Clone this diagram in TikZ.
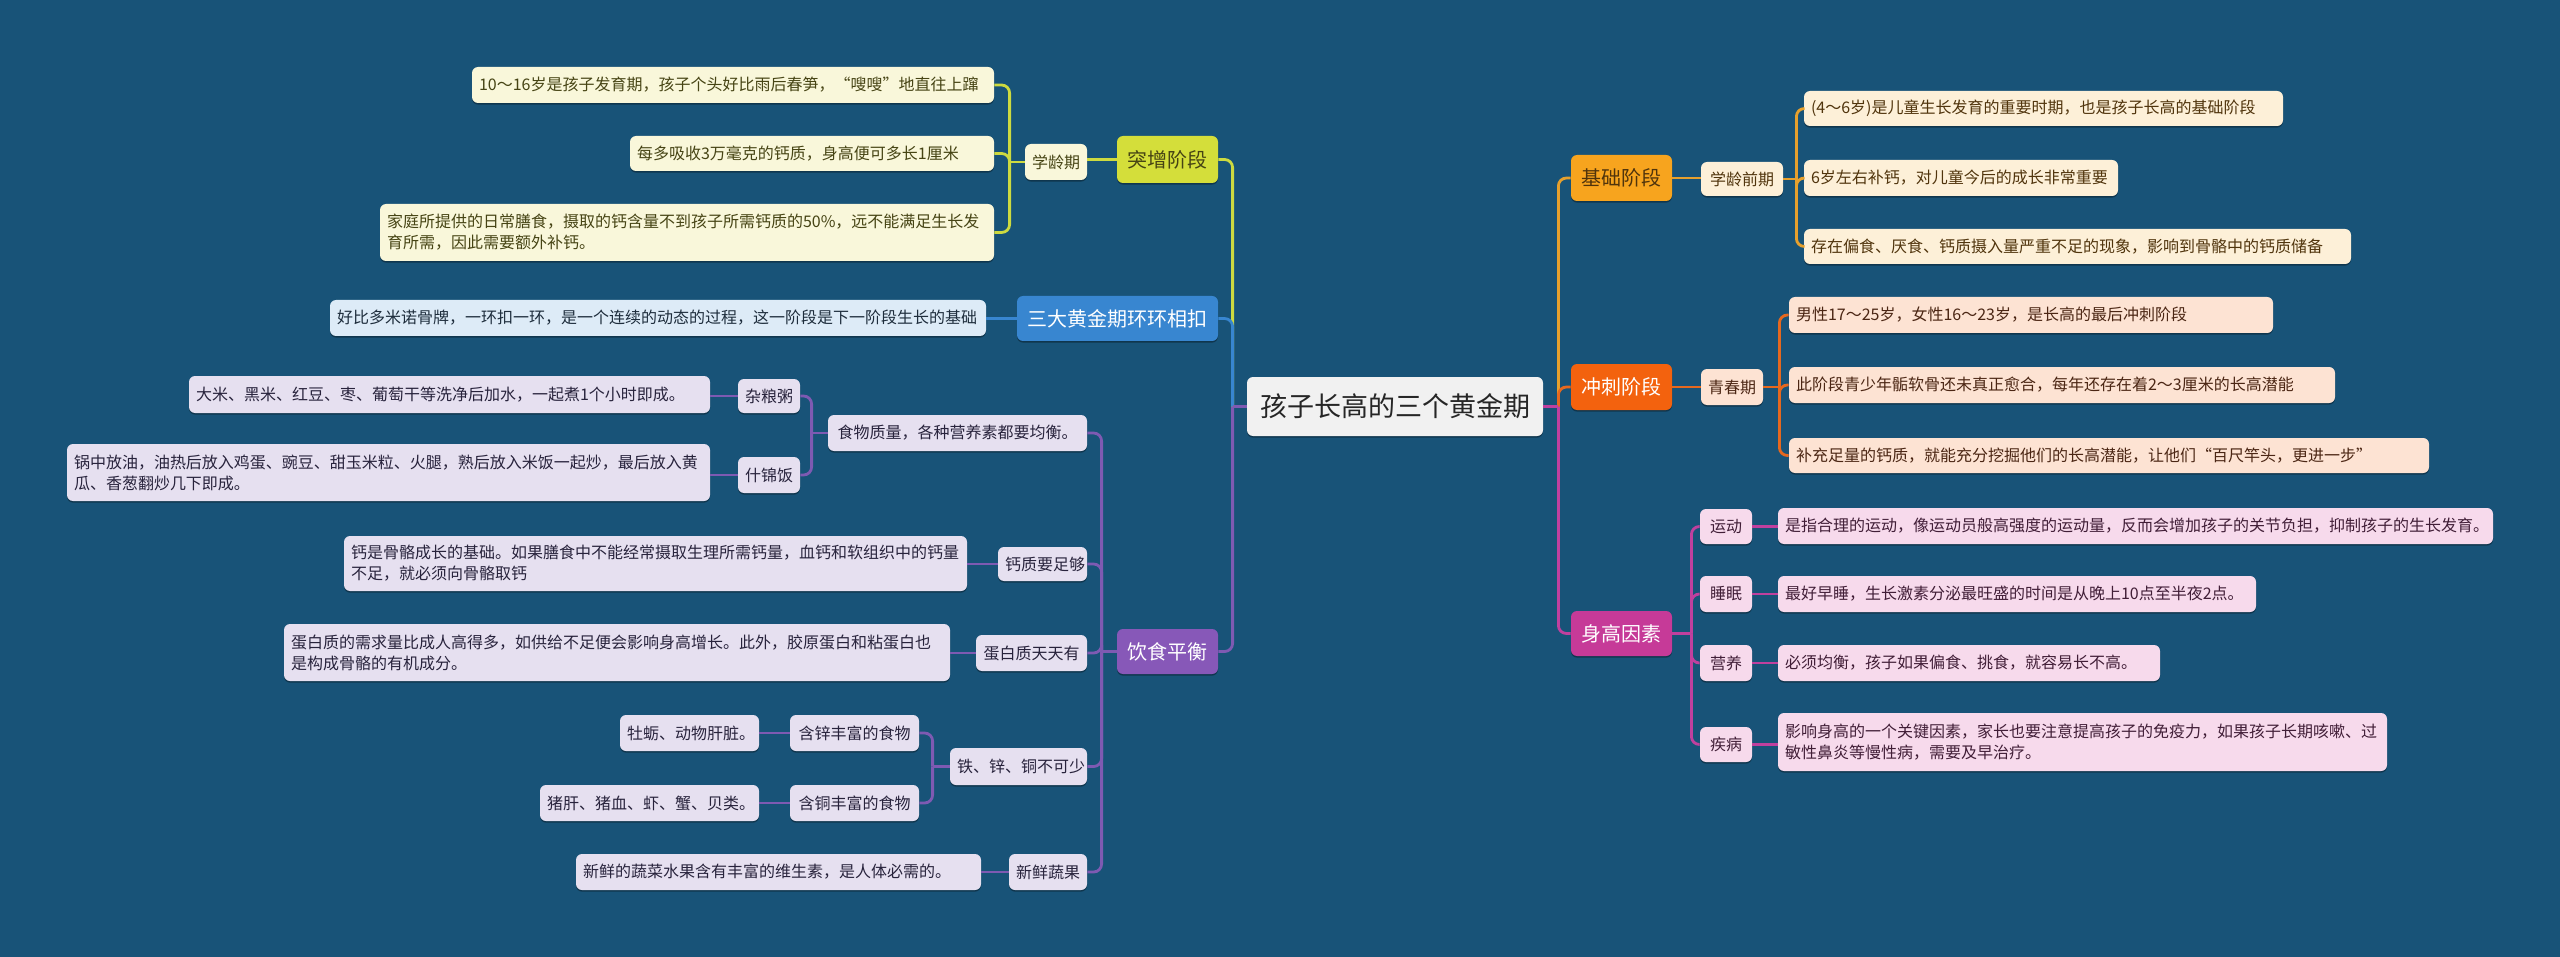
\documentclass[tikz,border=0pt]{standalone}
\usepackage{fontspec}
\setmainfont{Noto Sans CJK SC}
\usetikzlibrary{shadows}
\definecolor{bg}{RGB}{24,83,120}
\definecolor{cfill}{RGB}{241,241,241}
\definecolor{yM}{RGB}{212,222,58}\definecolor{yL}{RGB}{205,218,64}\definecolor{yF}{RGB}{249,247,218}\definecolor{yT}{RGB}{70,68,20}
\definecolor{bM}{RGB}{56,134,208}\definecolor{bL}{RGB}{56,134,208}\definecolor{bF}{RGB}{221,235,247}\definecolor{bT}{RGB}{30,45,60}
\definecolor{pM}{RGB}{135,88,184}\definecolor{pL}{RGB}{126,90,178}\definecolor{pF}{RGB}{230,224,240}\definecolor{pT}{RGB}{40,35,60}
\definecolor{oM}{RGB}{247,164,30}\definecolor{oL}{RGB}{230,160,45}\definecolor{oF}{RGB}{253,240,216}\definecolor{oT}{RGB}{80,52,12}
\definecolor{rM}{RGB}{243,98,14}\definecolor{rL}{RGB}{230,104,30}\definecolor{rF}{RGB}{253,227,211}\definecolor{rT}{RGB}{75,38,20}
\definecolor{mM}{RGB}{198,58,152}\definecolor{mL}{RGB}{192,64,158}\definecolor{mF}{RGB}{247,218,236}\definecolor{mT}{RGB}{65,30,55}
\newcommand\bx[7]{%
  \pgfmathsetmacro\bw{(#5-#3)*0.5}%
  \pgfmathsetmacro\bh{(#6-#4)*0.5}%
  \pgfmathsetmacro\tw{(#5-#3)*0.5-7}%
  \node[#1, minimum width=\bw pt, minimum height=\bh pt, text width=\tw pt] (#2) at ({(#3+#5)/2},{(#4+#6)/2}) {#7};}
\tikzset{
  box/.style={rounded corners=3pt, inner xsep=3.5pt, inner ysep=0pt,
    drop shadow={shadow xshift=0pt,shadow yshift=-0.8pt,opacity=0.35,fill=black}},
  leaf/.style={box, align=left, font=\fontsize{8}{10.5}\selectfont},
  sub/.style={box, align=center, font=\fontsize{8}{10.5}\selectfont},
  mainb/.style={box, align=center, font=\fontsize{10}{12}\selectfont},
  ln/.style={line width=1.4pt, rounded corners=4pt},
  lnY/.style={ln, draw=yL}, lnB/.style={ln, draw=bL}, lnP/.style={ln, draw=pL},
  lnO/.style={ln, draw=oL}, lnR/.style={ln, draw=rL}, lnM/.style={ln, draw=mL},
  leafY/.style={leaf, fill=yF, text=yT}, subY/.style={sub, fill=yF, text=yT},
  leafB/.style={leaf, fill=bF, text=bT},
  leafP/.style={leaf, fill=pF, text=pT}, subP/.style={sub, fill=pF, text=pT},
  leafO/.style={leaf, fill=oF, text=oT}, subO/.style={sub, fill=oF, text=oT},
  leafR/.style={leaf, fill=rF, text=rT}, subR/.style={sub, fill=rF, text=rT},
  leafM/.style={leaf, fill=mF, text=mT}, subM/.style={sub, fill=mF, text=mT},
}
\begin{document}
\begin{tikzpicture}[x=0.5pt,y=-0.5pt]
\fill[bg] (0,0) rectangle (2560,957);
\useasboundingbox (0,0) rectangle (2560,957);
% center
\node[box, fill=cfill, text=black!85, font=\fontsize{13.5}{16}\selectfont, minimum width=148pt, minimum height=29.5pt, inner xsep=0pt] (c) at (1395,406.5) {孩子长高的三个黄金期};
% left main branches
\bx{mainb, fill=yM, text=yT}{b1}{1117}{136}{1218}{183}{突增阶段}
\bx{mainb, fill=bM, text=white}{b2}{1017}{296}{1218}{341}{三大黄金期环环相扣}
\bx{mainb, fill=pM, text=white}{b3}{1117}{629}{1218}{674}{饮食平衡}
% right main branches
\bx{mainb, fill=oM, text=oT}{r1}{1571}{155}{1672}{201}{基础阶段}
\bx{mainb, fill=rM, text=white}{r2}{1571}{364}{1672}{410}{冲刺阶段}
\bx{mainb, fill=mM, text=white}{r3}{1571}{611}{1672}{656}{身高因素}
% yellow
\bx{subY}{s1}{1025}{144}{1087}{180}{学龄期}
\bx{leafY}{y1}{472}{67}{994}{103}{10～16岁是孩子发育期，孩子个头好比雨后春笋，“嗖嗖”地直往上蹿}
\bx{leafY}{y2}{630}{136}{994}{171}{每多吸收3万毫克的钙质，身高便可多长1厘米}
\bx{leafY}{y3}{380}{204}{994}{261}{家庭所提供的日常膳食，摄取的钙含量不到孩子所需钙质的50\%，远不能满足生长发\\育所需，因此需要额外补钙。}
% blue
\bx{leafB}{bl}{330}{300}{986}{336}{好比多米诺骨牌，一环扣一环，是一个连续的动态的过程，这一阶段是下一阶段生长的基础}
% purple
\bx{subP}{p1}{828}{415}{1087}{451}{食物质量，各种营养素都要均衡。}
\bx{subP}{z1}{738}{379}{800}{413}{杂粮粥}
\bx{leafP}{z1l}{189}{376}{710}{413}{大米、黑米、红豆、枣、葡萄干等洗净后加水，一起煮1个小时即成。}
\bx{subP}{z2}{738}{457}{800}{493}{什锦饭}
\bx{leafP}{z2l}{67}{444}{710}{501}{锅中放油，油热后放入鸡蛋、豌豆、甜玉米粒、火腿，熟后放入米饭一起炒，最后放入黄\\瓜、香葱翻炒几下即成。}
\bx{subP}{p2}{998}{547}{1087}{581}{钙质要足够}
\bx{leafP}{p2l}{344}{536}{967}{591}{钙是骨骼成长的基础。如果膳食中不能经常摄取生理所需钙量，血钙和软组织中的钙量\\不足，就必须向骨骼取钙}
\bx{subP}{p3}{976}{635}{1087}{671}{蛋白质天天有}
\bx{leafP}{p3l}{284}{624}{950}{681}{蛋白质的需求量比成人高得多，如供给不足便会影响身高增长。此外，胶原蛋白和粘蛋白也\\是构成骨骼的有机成分。}
\bx{subP}{p4}{950}{748}{1087}{785}{铁、锌、铜不可少}
\bx{subP}{x1}{790}{715}{919}{751}{含锌丰富的食物}
\bx{leafP}{x1l}{620}{715}{759}{751}{牡蛎、动物肝脏。}
\bx{subP}{x2}{790}{785}{919}{821}{含铜丰富的食物}
\bx{leafP}{x2l}{540}{785}{759}{821}{猪肝、猪血、虾、蟹、贝类。}
\bx{subP}{p5}{1009}{854}{1087}{890}{新鲜蔬果}
\bx{leafP}{p5l}{576}{854}{981}{890}{新鲜的蔬菜水果含有丰富的维生素，是人体必需的。}
% orange
\bx{subO}{s2}{1701}{162}{1783}{196}{学龄前期}
\bx{leafO}{o1}{1804}{91}{2283}{126}{(4～6岁)是儿童生长发育的重要时期，也是孩子长高的基础阶段}
\bx{leafO}{o2}{1804}{160}{2118}{196}{6岁左右补钙，对儿童今后的成长非常重要}
\bx{leafO}{o3}{1804}{229}{2351}{264}{存在偏食、厌食、钙质摄入量严重不足的现象，影响到骨骼中的钙质储备}
% red
\bx{subR}{s3}{1701}{369}{1763}{405}{青春期}
\bx{leafR}{q1}{1789}{297}{2273}{333}{男性17～25岁，女性16～23岁，是长高的最后冲刺阶段}
\bx{leafR}{q2}{1789}{367}{2335}{403}{此阶段青少年骺软骨还未真正愈合，每年还存在着2～3厘米的长高潜能}
\bx{leafR}{q3}{1789}{438}{2429}{473}{补充足量的钙质，就能充分挖掘他们的长高潜能，让他们“百尺竿头，更进一步”}
% magenta
\bx{subM}{m1}{1700}{509}{1752}{544}{运动}
\bx{leafM}{m1l}{1778}{508}{2493}{544}{是指合理的运动，像运动员般高强度的运动量，反而会增加孩子的关节负担，抑制孩子的生长发育。}
\bx{subM}{m2}{1700}{576}{1752}{612}{睡眠}
\bx{leafM}{m2l}{1778}{576}{2256}{612}{最好早睡，生长激素分泌最旺盛的时间是从晚上10点至半夜2点。}
\bx{subM}{m3}{1700}{645}{1752}{681}{营养}
\bx{leafM}{m3l}{1778}{645}{2160}{681}{必须均衡，孩子如果偏食、挑食，就容易长不高。}
\bx{subM}{m4}{1700}{727}{1752}{762}{疾病}
\bx{leafM}{m4l}{1778}{713}{2387}{771}{影响身高的一个关键因素，家长也要注意提高孩子的免疫力，如果孩子长期咳嗽、过\\敏性鼻炎等慢性病，需要及早治疗。}
% ---- connectors
\path (c.west) ++(-14,0) coordinate (cl);
\path (c.east) ++(15,0) coordinate (cr);
\draw[lnY] (cl) |- (b1.east);
\draw[lnB] (cl) |- (b2.east);
\draw[lnP] (cl) |- (b3.east);
\draw[lnP] (c.west) -- (cl);
\draw[lnO] (cr) |- (r1.west);
\draw[lnR] (cr) |- (r2.west);
\draw[lnM] (cr) |- (r3.west);
\draw[lnM] (c.east) -- (cr);
% yellow
\draw[lnY] (b1.west) -- (b1.west -| s1.east);
\path (s1.west) ++(-15,0) coordinate (j1);
\draw[lnY] (s1.west) -- (j1);
\draw[lnY] (j1) |- (y1.east);
\draw[lnY] (j1) |- (y2.east);
\draw[lnY] (j1) |- (y3.east);
% blue
\draw[lnB] (b2.west) -- (b2.west -| bl.east);
% purple
\path (b3.west) ++(-15,0) coordinate (j3);
\draw[lnP] (b3.west) -- (j3);
\draw[lnP] (j3) |- (p1.east);
\draw[lnP] (j3) |- (p2.east);
\draw[lnP] (j3) |- (p3.east);
\draw[lnP] (j3) |- (p4.east);
\draw[lnP] (j3) |- (p5.east);
\path (p1.west) ++(-16,0) coordinate (jp1);
\draw[lnP] (p1.west) -- (jp1);
\draw[lnP] (jp1) |- (z1.east);
\draw[lnP] (jp1) |- (z2.east);
\draw[lnP] (z1.west) -- (z1.west -| z1l.east);
\draw[lnP] (z2.west) -- (z2.west -| z2l.east);
\draw[lnP] (p2.west) -- (p2.west -| p2l.east);
\draw[lnP] (p3.west) -- (p3.west -| p3l.east);
\path (p4.west) ++(-17,0) coordinate (jp4);
\draw[lnP] (p4.west) -- (jp4);
\draw[lnP] (jp4) |- (x1.east);
\draw[lnP] (jp4) |- (x2.east);
\draw[lnP] (x1.west) -- (x1.west -| x1l.east);
\draw[lnP] (x2.west) -- (x2.west -| x2l.east);
\draw[lnP] (p5.west) -- (p5.west -| p5l.east);
% orange
\draw[lnO] (r1.east) -- (r1.east -| s2.west);
\path (s2.east) ++(13,0) coordinate (j4);
\draw[lnO] (s2.east) -- (j4);
\draw[lnO] (j4) |- (o1.west);
\draw[lnO] (j4) |- (o2.west);
\draw[lnO] (j4) |- (o3.west);
% red
\draw[lnR] (r2.east) -- (r2.east -| s3.west);
\path (s3.east) ++(16,0) coordinate (j5);
\draw[lnR] (s3.east) -- (j5);
\draw[lnR] (j5) |- (q1.west);
\draw[lnR] (j5) |- (q2.west);
\draw[lnR] (j5) |- (q3.west);
% magenta
\path (r3.east) ++(19,0) coordinate (j6);
\draw[lnM] (r3.east) -- (j6);
\draw[lnM] (j6) |- (m1.west);
\draw[lnM] (j6) |- (m2.west);
\draw[lnM] (j6) |- (m3.west);
\draw[lnM] (j6) |- (m4.west);
\draw[lnM] (m1.east) -- (m1.east -| m1l.west);
\draw[lnM] (m2.east) -- (m2.east -| m2l.west);
\draw[lnM] (m3.east) -- (m3.east -| m3l.west);
\draw[lnM] (m4.east) -- (m4.east -| m4l.west);
\end{tikzpicture}
\end{document}
